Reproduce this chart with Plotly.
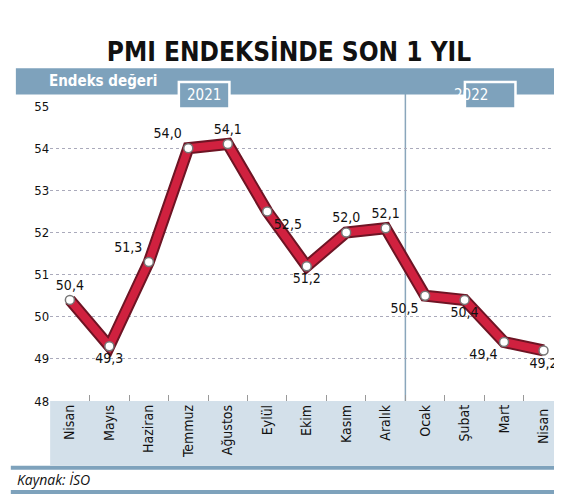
import plotly.graph_objects as go

# veri
aylar = ['Nisan', 'Mayıs', 'Haziran', 'Temmuz', 'Ağustos', 'Eylül', 'Ekim',
         'Kasım', 'Aralık', 'Ocak', 'Şubat', 'Mart', 'Nisan ']
pmi = [50.4, 49.3, 51.3, 54.0, 54.1, 52.5, 51.2, 52.0, 52.1, 50.5, 50.4, 49.4, 49.2]
etiket_yeri = ['top center', 'bottom center', 'top left', 'top left', 'top center',
               'bottom right', 'bottom center', 'top center', 'top center',
               'bottom left', 'bottom center', 'bottom left', 'bottom center']
yillar = ['2021', '2022']

FONT = 'DejaVu Sans Condensed, Liberation Sans Narrow, sans-serif'
MAVI = '#7ea2bc'

fig = go.Figure()
# koyu kenar
fig.add_trace(go.Scatter(x=aylar, y=pmi, mode='lines',
                         line=dict(color='#6e1424', width=12), hoverinfo='skip'))
fig.add_trace(go.Scatter(x=aylar, y=pmi, mode='lines+markers+text',
                         line=dict(color='#d0213f', width=8),
                         marker=dict(size=9, color='white', line=dict(color='#777', width=1.5)),
                         text=[f'{v:.1f}'.replace('.', ',') for v in pmi],
                         textposition=etiket_yeri,
                         textfont=dict(family=FONT, size=14, color='#111')))

# ay ayrımı 2021/2022
fig.add_shape(type='line', xref='x', yref='paper', x0=8.5, x1=8.5, y0=0.194, y1=0.84,
              line=dict(color='#8aa6bb', width=1.5), layer='below')

# başlık bandı
fig.add_shape(type='rect', xref='paper', yref='paper', x0=0.014, x1=0.988, y0=0.834, y1=0.889,
              fillcolor=MAVI, line=dict(width=0), layer='below')
for yil, xc in zip(yillar, [0.349, 0.858]):
    fig.add_shape(type='rect', xref='paper', yref='paper', x0=xc - 0.045, x1=xc + 0.045,
                  y0=0.805, y1=0.86, fillcolor=MAVI, line=dict(color='white', width=2.5),
                  layer='below')
    fig.add_annotation(x=xc, y=0.832, xref='paper', yref='paper', text=yil, showarrow=False,
                       yanchor='middle', font=dict(family=FONT, size=15, color='white'))
fig.add_annotation(x=0.07, y=0.862, xref='paper', yref='paper', text='<b>Endeks değeri</b>',
                   showarrow=False, xanchor='left', yanchor='middle',
                   font=dict(family=FONT, size=15, color='white'))

# alt bant
fig.add_shape(type='rect', xref='paper', yref='paper', x0=0.075, x1=0.988, y0=0.06, y1=0.194,
              fillcolor='#d3e0ea', line=dict(width=0), layer='below')
for yy in [0.055, 0.004]:
    fig.add_shape(type='line', xref='paper', yref='paper', x0=0.005, x1=0.99, y0=yy, y1=yy,
                  line=dict(color=MAVI, width=4), layer='below')
fig.add_annotation(x=0.012, y=0.03, xref='paper', yref='paper', text='<i>Kaynak:</i> <i>İSO</i>',
                   showarrow=False, xanchor='left', yanchor='middle',
                   font=dict(family='Open Sans, sans-serif', size=14, color='#111'))

fig.update_layout(
    width=562, height=494, margin=dict(l=0, r=0, t=0, b=0),
    paper_bgcolor='white', plot_bgcolor='rgba(0,0,0,0)', showlegend=False,
    title=dict(text='<b>PMI ENDEKSİNDE SON 1 YIL</b>', x=0.5, y=0.93, xanchor='center',
               font=dict(family=FONT, size=26, color='#111')),
    xaxis=dict(domain=[0.075, 0.988], range=[-0.5, 12.5], tickangle=-90, showgrid=False,
               tickson='boundaries', ticks='inside', ticklen=6, tickcolor='#999',
               tickfont=dict(family=FONT, size=14, color='#111'), zeroline=False),
    yaxis=dict(domain=[0.194, 0.81], range=[48, 55], dtick=1, showgrid=True,
               gridcolor='#aab', griddash='dot', gridwidth=1, zeroline=False,
               tickfont=dict(family=FONT, size=13, color='#111'), ticks='', showline=False),
)

fig.write_html('out.html')
